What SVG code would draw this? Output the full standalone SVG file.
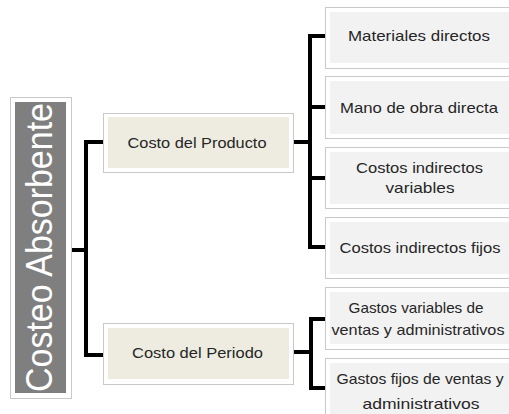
<svg xmlns="http://www.w3.org/2000/svg" width="509" height="414" viewBox="0 0 509 414">
<style>
.frame{fill:#ffffff;stroke:#c9c9c9;stroke-width:1}
.tan{fill:#eeece1}
.gray{fill:#f2f2f2}
.root{fill:#7f7f7f}
.lbl{font-family:"Liberation Sans",Arial,sans-serif;font-size:15px;fill:#262626;text-anchor:middle}
.rootlbl{font-family:"Liberation Sans",Arial,sans-serif;font-size:37px;fill:#ffffff;text-anchor:middle}
.conn{fill:none;stroke:#000000;stroke-width:4;stroke-linejoin:miter;stroke-linecap:butt}
</style>
<rect width="509" height="414" fill="#ffffff"/>
<g id="connectors">
<path class="conn" d="M71,250 H86 M103,142 H86 V355 H103"/>
<path class="conn" d="M293,142 H310 M325,36 H310 V247 H325 M310,107 H325 M310,178 H325"/>
<path class="conn" d="M293,352 H311 M325,319 H311 V388 H325"/>
</g>
<g id="root">
<rect class="frame" x="10.5" y="97.5" width="61" height="301"/>
<rect class="root" x="15" y="102" width="51" height="291"/>
<text class="rootlbl" transform="translate(52,247.5) rotate(-90)" x="0" y="0" textLength="289" lengthAdjust="spacingAndGlyphs">Costeo Absorbente</text>
</g>
<g id="producto">
<rect class="frame" x="103.5" y="113.5" width="190" height="59"/>
<rect class="tan" x="108" y="117" width="181" height="51"/>
<text class="lbl" x="197" y="147.5" textLength="139" lengthAdjust="spacingAndGlyphs">Costo del Producto</text>
</g>
<g id="periodo">
<rect class="frame" x="103.5" y="323.5" width="190" height="61"/>
<rect class="tan" x="108" y="328" width="181" height="51"/>
<text class="lbl" x="197.5" y="358" textLength="131" lengthAdjust="spacingAndGlyphs">Costo del Periodo</text>
</g>
<g id="materiales">
<rect class="frame" x="325.5" y="7.5" width="200" height="61"/>
<rect class="gray" x="330" y="12" width="195" height="51"/>
<text class="lbl" x="419" y="41" textLength="142" lengthAdjust="spacingAndGlyphs">Materiales directos</text>
</g>
<g id="mano">
<rect class="frame" x="325.5" y="76.5" width="200" height="62"/>
<rect class="gray" x="330" y="81" width="195" height="53"/>
<text class="lbl" x="419" y="112.5" textLength="158" lengthAdjust="spacingAndGlyphs">Mano de obra directa</text>
</g>
<g id="indirectos-variables">
<rect class="frame" x="325.5" y="147.5" width="200" height="61"/>
<rect class="gray" x="330" y="152" width="195" height="52"/>
<text class="lbl" x="419.5" y="173" textLength="127" lengthAdjust="spacingAndGlyphs">Costos indirectos</text>
<text class="lbl" x="420" y="193" textLength="69" lengthAdjust="spacingAndGlyphs">variables</text>
</g>
<g id="indirectos-fijos">
<rect class="frame" x="325.5" y="217.5" width="200" height="61"/>
<rect class="gray" x="330" y="222" width="195" height="52"/>
<text class="lbl" x="420" y="253" textLength="161" lengthAdjust="spacingAndGlyphs">Costos indirectos fijos</text>
</g>
<g id="gastos-variables">
<rect class="frame" x="325.5" y="287.5" width="200" height="62"/>
<rect class="gray" x="330" y="292" width="195" height="52"/>
<text class="lbl" x="416" y="313" textLength="135" lengthAdjust="spacingAndGlyphs">Gastos variables de</text>
<text class="lbl" x="418" y="335" textLength="173" lengthAdjust="spacingAndGlyphs">ventas y administrativos</text>
</g>
<g id="gastos-fijos">
<rect class="frame" x="325.5" y="358.5" width="200" height="62"/>
<rect class="gray" x="330" y="363" width="195" height="52"/>
<text class="lbl" x="420" y="384" textLength="167" lengthAdjust="spacingAndGlyphs">Gastos fijos de ventas y</text>
<text class="lbl" x="421" y="409" textLength="117" lengthAdjust="spacingAndGlyphs">administrativos</text>
</g>
</svg>
